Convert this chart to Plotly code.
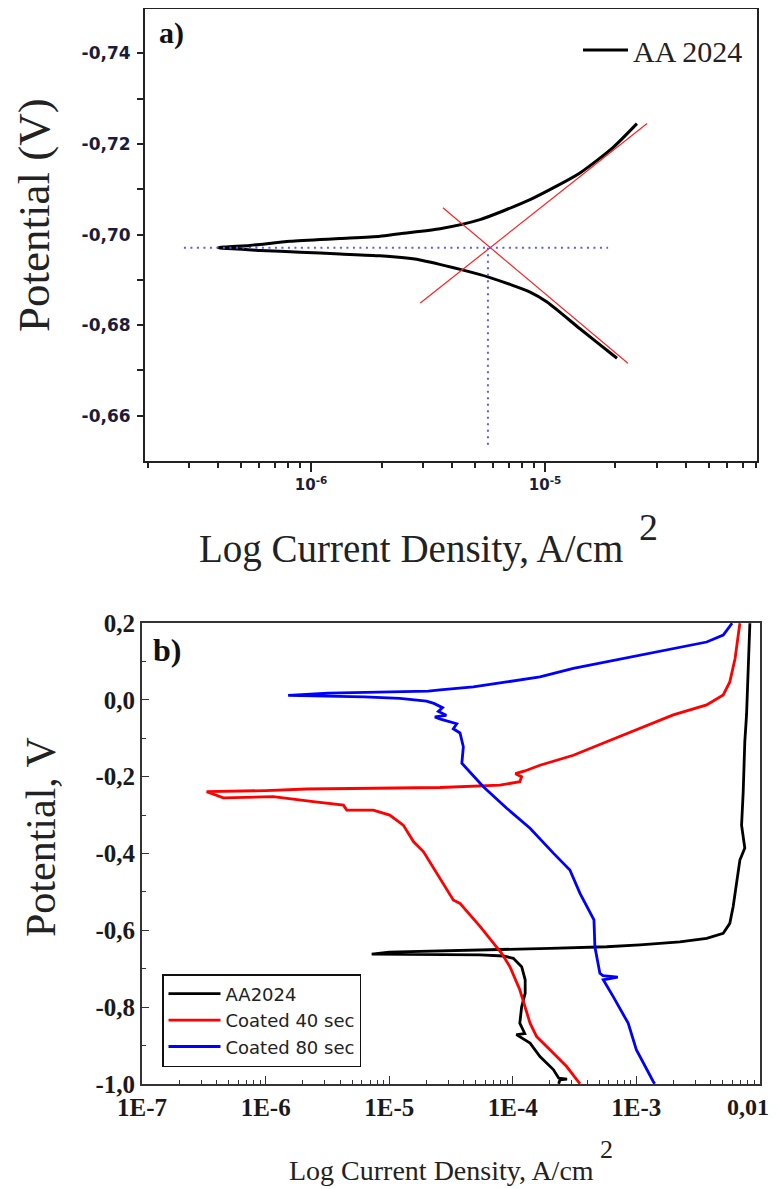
import plotly.graph_objects as go

# page body has an 8 px margin; the figure is sized so it fills the window exactly
OFF = 8
W, H = 779 - OFF, 1189 - OFF

# ---------------- Panel a) : AA 2024 Tafel plot ----------------
a_current = [2.03e-5, 1.95e-5, 1.41e-5, 1.02e-5, 8.63e-6, 5.82e-6, 4.34e-6, 2.92e-6,
             1.97e-6, 1.33e-6, 8.98e-7, 6.05e-7, 4.01e-7,
             5.48e-7, 8.13e-7, 1.33e-6, 1.97e-6, 2.40e-6, 3.56e-6, 5.27e-6, 8.63e-6,
             1.41e-5, 1.95e-5, 2.47e-5]
a_potential = [-0.6727, -0.6734, -0.6792, -0.6851, -0.6873, -0.6905, -0.6923, -0.6944,
               -0.6953, -0.6957, -0.6961, -0.6965, -0.6971,
               -0.6976, -0.6985, -0.6991, -0.6996, -0.7002, -0.7013, -0.7033, -0.7077,
               -0.7136, -0.7192, -0.7245]

tafel1_current = [2.93e-6, 2.73e-5]
tafel1_potential = [-0.6849, -0.7245]
tafel2_current = [3.66e-6, 2.26e-5]
tafel2_potential = [-0.7059, -0.6716]

ecorr = -0.6971
icorr = 5.70e-6
ecorr_line_current = [2.86e-7, 1.86e-5]
icorr_line_potential = [ecorr, -0.6534]

a_yticks = [-0.74, -0.72, -0.70, -0.68, -0.66]
a_yticktext = ["-0,74", "-0,72", "-0,70", "-0,68", "-0,66"]
a_yminor = [-0.73, -0.71, -0.69, -0.67]
a_xticks = [1e-6, 1e-5]
a_xticktext = ["10<sup>-6</sup>", "10<sup>-5</sup>"]
a_xminor = [m * 10.0 ** e for e in (-7, -6, -5) for m in range(2, 10)]

# ---------------- Panel b) : polarization curves ----------------
aa_current = [2.35e-4, 2.41e-4, 2.75e-4, 2.35e-4, 2.13e-4, 1.66e-4, 1.38e-4, 1.07e-4, 1.25e-4,
              1.14e-4, 1.18e-4, 1.26e-4, 1.26e-4, 1.18e-4, 1.01e-4, 8.38e-5, 5.43e-5,
              2.58e-5, 7.21e-6,
              1.0e-5, 8.93e-5, 2.00e-4, 5.75e-4, 1.07e-3, 2.25e-3, 3.71e-3, 5.05e-3,
              5.71e-3, 6.08e-3, 6.47e-3, 6.89e-3, 7.55e-3, 7.11e-3, 7.33e-3, 7.55e-3,
              7.80e-3, 8.04e-3, 8.30e-3]
aa_potential = [-1.0, -0.990, -0.988, -0.985, -0.963, -0.929, -0.894, -0.872, -0.869,
                -0.842, -0.799, -0.764, -0.729, -0.695, -0.673, -0.667, -0.664,
                -0.663, -0.662,
                -0.657, -0.651, -0.647, -0.643, -0.638, -0.630, -0.621, -0.608,
                -0.582, -0.538, -0.478, -0.417, -0.386, -0.326, -0.239, -0.109,
                -0.039, 0.108, 0.2]

c40_current = [3.50e-4, 2.73e-4, 2.00e-4, 1.56e-4, 1.38e-4, 1.26e-4, 1.14e-4, 9.48e-5,
               8.13e-5, 5.43e-5, 3.74e-5, 3.30e-5, 2.74e-5, 1.89e-5, 1.57e-5, 1.30e-5,
               1.01e-5, 7.43e-6, 4.53e-6, 4.26e-6, 2.43e-6, 1.15e-6, 4.55e-7, 3.33e-7,
               1.0e-6, 2.15e-6, 2.58e-5, 7.87e-5, 1.14e-4, 1.18e-4, 1.05e-4, 1.25e-4,
               1.66e-4, 3.09e-4, 5.75e-4, 1.07e-3, 1.99e-3, 3.71e-3, 5.05e-3, 5.71e-3,
               6.30e-3, 6.68e-3, 6.89e-3]
c40_potential = [-1.0, -0.955, -0.911, -0.877, -0.842, -0.799, -0.755, -0.695,
                 -0.660, -0.590, -0.530, -0.521, -0.478, -0.395, -0.369, -0.326,
                 -0.300, -0.287, -0.287, -0.274, -0.265, -0.252, -0.255, -0.239,
                 -0.236, -0.232, -0.228, -0.222, -0.213, -0.200, -0.192, -0.185,
                 -0.170, -0.144, -0.109, -0.074, -0.039, -0.013, 0.013, 0.047,
                 0.108, 0.169, 0.2]

c80_current = [1.41e-3, 1.37e-3, 1.00e-3, 8.59e-4, 6.50e-4, 5.40e-4, 7.08e-4, 5.37e-4,
               5.07e-4, 4.62e-4, 4.54e-4, 3.50e-4, 2.90e-4, 2.13e-4, 1.38e-4, 8.93e-5,
               5.78e-5, 4.51e-5, 3.87e-5, 3.98e-5, 3.74e-5, 3.30e-5, 3.52e-5, 2.60e-5,
               2.34e-5, 2.90e-5, 2.50e-5, 2.70e-5, 2.30e-5, 2.00e-5, 1.50e-5, 1.22e-5,
               6.3e-6, 3.2e-6, 1.52e-6,
               3.2e-6, 1.22e-5, 2.07e-5, 2.58e-5, 4.79e-5, 8.93e-5, 1.66e-4, 3.09e-4,
               5.75e-4, 1.07e-3, 1.99e-3, 3.71e-3, 5.05e-3, 5.90e-3, 5.96e-3]
c80_potential = [-1.0, -0.994, -0.911, -0.842, -0.773, -0.729, -0.722, -0.718,
                 -0.712, -0.643, -0.573, -0.504, -0.443, -0.399, -0.334, -0.282,
                 -0.226, -0.190, -0.165, -0.122, -0.086, -0.075, -0.062, -0.050,
                 -0.044, -0.040, -0.030, -0.020, -0.009, -0.003, 0.002, 0.004,
                 0.008, 0.010, 0.012,
                 0.018, 0.021, 0.023, 0.026, 0.034, 0.047, 0.060, 0.082,
                 0.099, 0.117, 0.134, 0.151, 0.169, 0.199, 0.2]

b_yticks = [-1.0, -0.8, -0.6, -0.4, -0.2, 0.0, 0.2]
b_yticktext = ["-1,0", "-0,8", "-0,6", "-0,4", "-0,2", "0,0", "0,2"]
b_yminor = [-0.9, -0.7, -0.5, -0.3, -0.1, 0.1]
b_xticks = [1e-7, 1e-6, 1e-5, 1e-4, 1e-3, 1e-2]
b_xticktext = ["1E-7", "1E-6", "1E-5", "1E-4", "1E-3", ""]
b_xlast_label = "0,01"   # last tick label, right-aligned near the window edge
b_xminor = [m * 10.0 ** e for e in (-7, -6, -5, -4, -3) for m in range(2, 10)]

SERIF = "Liberation Serif"


def px_x(p):
    """window pixel x -> paper fraction"""
    return min(1.0, max(0.0, (p - OFF) / W))


def px_y(p):
    """window pixel y -> paper fraction"""
    return min(1.0, max(0.0, 1 - (p - OFF) / H))


fig = go.Figure()

# panel a traces
fig.add_trace(go.Scatter(x=a_current, y=a_potential, mode="lines", name="AA 2024",
                         line=dict(color="black", width=3, shape="spline", smoothing=0.6),
                         xaxis="x", yaxis="y", legend="legend"))
fig.add_trace(go.Scatter(x=tafel1_current, y=tafel1_potential, mode="lines",
                         line=dict(color="#ff2020", width=1.2), showlegend=False,
                         xaxis="x", yaxis="y"))
fig.add_trace(go.Scatter(x=tafel2_current, y=tafel2_potential, mode="lines",
                         line=dict(color="#ff2020", width=1.2), showlegend=False,
                         xaxis="x", yaxis="y"))
fig.add_trace(go.Scatter(x=ecorr_line_current, y=[ecorr, ecorr], mode="lines",
                         line=dict(color="#5a5aff", width=2, dash="2px,4.5px"),
                         showlegend=False, xaxis="x", yaxis="y"))
fig.add_trace(go.Scatter(x=[icorr, icorr], y=icorr_line_potential, mode="lines",
                         line=dict(color="#5a5aff", width=2, dash="2px,4.5px"),
                         showlegend=False, xaxis="x", yaxis="y"))

# panel b traces
for cur, pot, name, col in [(aa_current, aa_potential, "AA2024", "black"),
                            (c40_current, c40_potential, "Coated 40 sec", "#ff0000"),
                            (c80_current, c80_potential, "Coated 80 sec", "#0000ff")]:
    fig.add_trace(go.Scatter(x=cur, y=pot, mode="lines", name=name,
                             line=dict(color=col, width=2.8), xaxis="x2", yaxis="y2",
                             legend="legend2"))

tick_a_font = dict(family="DejaVu Sans", size=17, color="#1c1c3a", weight="bold")
tick_b_font = dict(family=SERIF, size=25, color="#1a1a1a", weight="bold")

fig.update_layout(
    width=W, height=H,
    margin=dict(l=0, r=0, t=0, b=0, pad=0, autoexpand=False),
    paper_bgcolor="white", plot_bgcolor="white",
    showlegend=True,
    xaxis=dict(type="log", domain=[px_x(145), px_x(757)], anchor="y", automargin=False,
               range=[-6.71, -4.094], showgrid=False, zeroline=False,
               showline=True, mirror=True, linecolor="#222", linewidth=2,
               ticks="outside", ticklen=9, tickwidth=1.5, tickcolor="#222",
               tickvals=a_xticks, ticktext=a_xticktext,
               tickfont=dict(family="DejaVu Sans", size=15, color="#1c1c3a", weight="bold"),
               minor=dict(tickvals=a_xminor, ticks="outside", ticklen=5,
                          tickwidth=1.5, tickcolor="#222", showgrid=False)),
    yaxis=dict(domain=[px_y(461), px_y(9)], anchor="x", automargin=False,
               range=[-0.65, -0.7498], showgrid=False, zeroline=False,
               showline=True, mirror=True, linecolor="#222", linewidth=2,
               ticks="outside", ticklen=6, tickwidth=1.5, tickcolor="#222",
               tickvals=a_yticks, ticktext=a_yticktext, tickfont=tick_a_font,
               ticklabelstandoff=3,
               minor=dict(tickvals=a_yminor, ticks="outside", ticklen=6,
                          tickwidth=1.5, tickcolor="#222", showgrid=False)),
    xaxis2=dict(type="log", domain=[px_x(142), px_x(760)], anchor="y2", automargin=False,
                range=[-7.001, -1.999], showgrid=False, zeroline=False,
                showline=True, mirror=True, linecolor="#333", linewidth=1.8,
                ticks="inside", ticklen=8, tickwidth=1.3, tickcolor="#333",
                tickvals=b_xticks, ticktext=b_xticktext, tickfont=tick_b_font,
                ticklabeloverflow="allow",
                minor=dict(tickvals=b_xminor, ticks="inside", ticklen=4,
                           tickwidth=1.3, tickcolor="#333", showgrid=False)),
    yaxis2=dict(domain=[px_y(1084), px_y(623)], anchor="x2", automargin=False,
                range=[-1.0005, 0.2005], showgrid=False, zeroline=False,
                showline=True, mirror=True, linecolor="#333", linewidth=1.8,
                ticks="inside", ticklen=7, tickwidth=1.3, tickcolor="#333",
                tickvals=b_yticks, ticktext=b_yticktext, tickfont=tick_b_font,
                ticklabeloverflow="allow",
                minor=dict(tickvals=b_yminor, ticks="inside", ticklen=4,
                           tickwidth=1.3, tickcolor="#333", showgrid=False)),
    legend=dict(x=px_x(578), y=px_y(24), xanchor="left", yanchor="top",
                bgcolor="rgba(0,0,0,0)", borderwidth=0, itemwidth=45,
                font=dict(family=SERIF, size=30, color="#222")),
    legend2=dict(x=px_x(162), y=px_y(974), xanchor="left", yanchor="top",
                 bgcolor="white", bordercolor="#111", borderwidth=1.5, itemwidth=52,
                 font=dict(family="DejaVu Sans", size=18, color="#222"),
                 tracegroupgap=0),
)

annotations = [
    dict(text="<b>a)</b>", x=px_x(157), y=px_y(33), xanchor="left", yanchor="middle",
         font=dict(family=SERIF, size=30, color="#111")),
    dict(text="<b>b)</b>", x=px_x(151), y=px_y(650), xanchor="left", yanchor="middle",
         font=dict(family=SERIF, size=32, color="#111")),
    dict(text="Potential (V)", x=px_x(34), y=px_y(215), xanchor="center", yanchor="middle",
         textangle=-90, font=dict(family=SERIF, size=45, color="#222")),
    dict(text="Log Current Density, A/cm", x=px_x(197), y=px_y(549), xanchor="left",
         yanchor="middle", font=dict(family=SERIF, size=39, color="#222")),
    dict(text="2", x=px_x(637), y=px_y(527), xanchor="left", yanchor="middle",
         font=dict(family=SERIF, size=38, color="#222")),
    dict(text="Potential, V", x=px_x(41), y=px_y(837), xanchor="center", yanchor="middle",
         textangle=-90, font=dict(family=SERIF, size=42, color="#222")),
    dict(text="Log Current Density, A/cm", x=px_x(287), y=px_y(1170), xanchor="left",
         yanchor="middle", font=dict(family=SERIF, size=28, color="#222")),
    dict(text="2", x=px_x(598), y=px_y(1149), xanchor="left", yanchor="middle",
         font=dict(family=SERIF, size=26, color="#222")),
    dict(text="<b>%s</b>" % b_xlast_label, x=px_x(770), y=px_y(1107), xanchor="right",
         yanchor="middle", borderpad=0,
         font=dict(family=SERIF, size=24, color="#1a1a1a")),
]
for a in annotations:
    a.update(xref="paper", yref="paper", showarrow=False)
fig.update_layout(annotations=annotations)

fig.write_html("out.html")
